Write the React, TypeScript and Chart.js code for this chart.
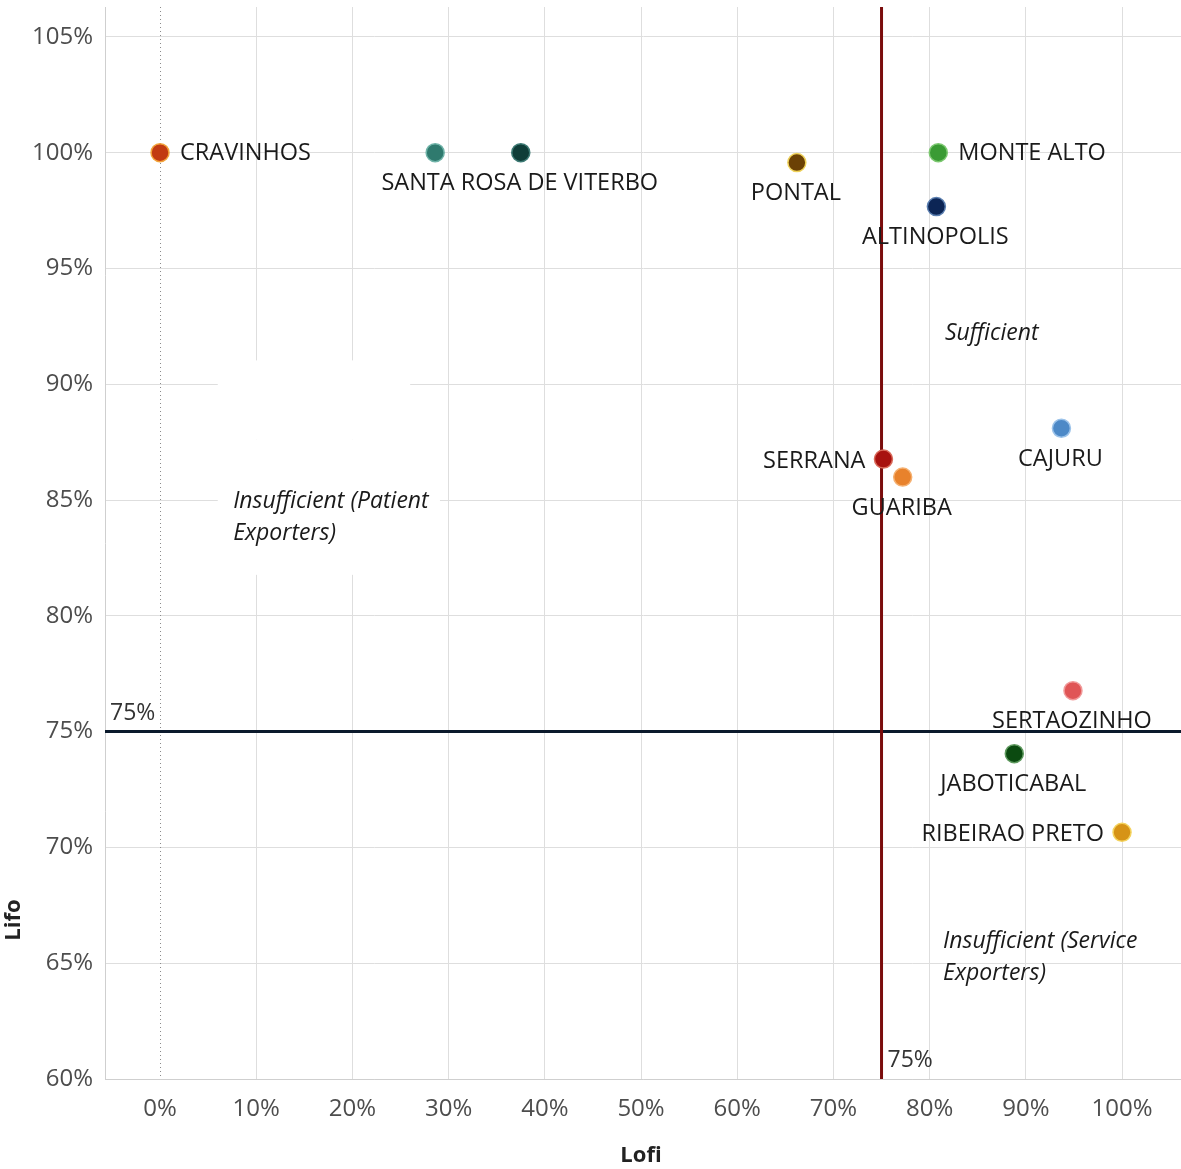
import React, { useEffect, useRef } from "react";
import { Chart, registerables } from "chart.js";

Chart.register(...registerables);

const cities = ["CRAVINHOS", "", "SANTA ROSA DE VITERBO", "PONTAL", "MONTE ALTO", "ALTINOPOLIS", "SERRANA", "GUARIBA", "CAJURU", "SERTAOZINHO", "JABOTICABAL", "RIBEIRAO PRETO"];
const lofi = [0, 28.6, 37.5, 66.2, 80.9, 80.7, 75.2, 77.2, 93.7, 94.9, 88.8, 100];
const lifo = [100, 100, 100, 99.57, 100, 97.67, 86.77, 85.99, 88.1, 76.77, 74.05, 70.65];
const pointColors = ["#c23b12", "#2f7a6e", "#0f3d38", "#6b4105", "#3a9b34", "#0c2555", "#a8120f", "#e8822c", "#4d89c7", "#e05556", "#0b4a10", "#d69316"];
const pointBorders = ["#f3a43a", "#6fb3a8", "#3d7a74", "#efd25a", "#7cc870", "#5b7fb0", "#d96a5a", "#f5b070", "#9cc3ea", "#f19a9a", "#5f9a5f", "#f4d35e"];
const labelSide = ["right", "none", "below", "below", "right", "below", "left", "below", "below", "below", "below", "left"];

const xTicks = [0, 10, 20, 30, 40, 50, 60, 70, 80, 90, 100];
const yTicks = [60, 65, 70, 75, 80, 85, 90, 95, 100, 105];
const xRange = [-5.72, 106.13];
const yRange = [60, 106.29];

const refLofi = 75;
const refLifo = 75;

const quadrantTexts = [["Sufficient"], ["Insufficient (Patient", "Exporters)"], ["Insufficient (Service", "Exporters)"]];
const quadrantX = [81.6, 7.6, 81.4];
const quadrantY = [92.2, 84.96, 65.95];

const FONT = "'Open Sans', 'Noto Sans', sans-serif";

const overlayPlugin = {
  id: "overlay",
  beforeDatasetsDraw(chart: any) {
    const { ctx, chartArea, scales } = chart;
    const xs = scales.x;
    const ys = scales.y;
    ctx.save();
    ctx.fillStyle = "#ffffff";
    const px = (v: number) => xs.getPixelForValue(v);
    const py = (v: number) => ys.getPixelForValue(v);
    ctx.fillRect(px(6.0), py(91.03), px(26.0) - px(6.0), py(87.6) - py(91.03));
    ctx.fillRect(px(6.0), py(87.6), px(29.1) - px(6.0), py(81.77) - py(87.6));
    // dotted zero line
    ctx.strokeStyle = "#8a8a8a";
    ctx.lineWidth = 1;
    ctx.setLineDash([1, 3]);
    ctx.beginPath();
    ctx.moveTo(px(0) + 0.5, chartArea.top);
    ctx.lineTo(px(0) + 0.5, chartArea.bottom);
    ctx.stroke();
    ctx.setLineDash([]);
    // horizontal reference
    ctx.strokeStyle = "#0b1a2c";
    ctx.lineWidth = 3;
    ctx.beginPath();
    ctx.moveTo(chartArea.left, py(refLifo));
    ctx.lineTo(chartArea.right, py(refLifo));
    ctx.stroke();
    // vertical reference
    ctx.strokeStyle = "#7a0c0c";
    ctx.lineWidth = 3;
    ctx.beginPath();
    ctx.moveTo(px(refLofi), chartArea.top);
    ctx.lineTo(px(refLofi), chartArea.bottom);
    ctx.stroke();
    ctx.fillStyle = "#333";
    ctx.font = `23px ${FONT}`;
    ctx.textAlign = "left";
    ctx.textBaseline = "middle";
    ctx.fillText(refLifo + "%", chartArea.left + 5, py(refLifo) - 18);
    ctx.fillText(refLofi + "%", px(refLofi) + 6, chartArea.bottom - 19);
    ctx.restore();
  },
  afterDatasetsDraw(chart: any) {
    const { ctx, scales } = chart;
    const xs = scales.x;
    const ys = scales.y;
    ctx.save();
    ctx.fillStyle = "#1a1a1a";
    ctx.font = `23.5px ${FONT}`;
    ctx.textBaseline = "middle";
    cities.forEach((name, i) => {
      const side = labelSide[i];
      if (!name || side === "none") return;
      const x = xs.getPixelForValue(lofi[i]);
      const y = ys.getPixelForValue(lifo[i]);
      if (side === "right") {
        ctx.textAlign = "left";
        ctx.fillText(name, x + 20, y + 1);
      } else if (side === "left") {
        ctx.textAlign = "right";
        ctx.fillText(name, x - 18, y + 2);
      } else {
        ctx.textAlign = "center";
        ctx.fillText(name, x - 1, y + 31);
      }
    });
    ctx.font = `italic 23px ${FONT}`;
    ctx.fillStyle = "#1a1a1a";
    ctx.textAlign = "left";
    quadrantTexts.forEach((lines, i) => {
      const x = xs.getPixelForValue(quadrantX[i]);
      const y = ys.getPixelForValue(quadrantY[i]);
      lines.forEach((ln, j) => ctx.fillText(ln, x, y + j * 32));
    });
    ctx.font = `bold 22px ${FONT}`;
    ctx.fillStyle = "#222";
    ctx.textAlign = "center";
    ctx.fillText("Lofi", (chart.chartArea.left + chart.chartArea.right) / 2 - 2, 1156);
    ctx.translate(14, 920);
    ctx.rotate(-Math.PI / 2);
    ctx.fillText("Lifo", 0, 0);
    ctx.restore();
  },
};

export default function App() {
  const canvasRef = useRef<HTMLCanvasElement | null>(null);
  useEffect(() => {
    if (!canvasRef.current) return;
    const chart = new Chart(canvasRef.current, {
      type: "scatter",
      data: {
        datasets: [
          {
            label: "Cities",
            data: lofi.map((x, i) => ({ x, y: lifo[i] })),
            backgroundColor: pointColors,
            borderColor: pointBorders,
            borderWidth: 1.5,
            pointRadius: 9,
            pointHoverRadius: 9,
          },
        ],
      },
      options: {
        animation: false,
        responsive: false,
        devicePixelRatio: 1,
        layout: { autoPadding: false, padding: { top: 7, left: 0, right: 0, bottom: 0 } },
        plugins: { legend: { display: false }, tooltip: { enabled: false }, title: { display: false } },
        scales: {
          x: {
            type: "linear",
            min: xRange[0],
            max: xRange[1],
            afterBuildTicks: (s: any) => {
              s.ticks = xTicks.map((v) => ({ value: v }));
            },
            afterFit: (s: any) => {
              s.height = 90;
              s.paddingLeft = 0;
              s.paddingRight = 0;
            },
            grid: {
              color: (c: any) => (c.tick && c.tick.value === 0 ? "rgba(0,0,0,0)" : "#dedede"),
              lineWidth: 1,
              drawTicks: false,
            },
            border: { display: true, color: "#cfcfcf" },
            ticks: {
              padding: 16,
              color: "#4d4d4d",
              font: { family: FONT, size: 24 },
              callback: (v: any) => v + "%",
            },
          },
          y: {
            type: "linear",
            min: yRange[0],
            max: yRange[1],
            afterBuildTicks: (s: any) => {
              s.ticks = yTicks.map((v) => ({ value: v }));
            },
            afterFit: (s: any) => {
              s.width = 105;
              s.paddingTop = 0;
              s.paddingBottom = 0;
            },
            grid: { color: "#dedede", lineWidth: 1, drawTicks: false },
            border: { display: true, color: "#cfcfcf" },
            ticks: {
              padding: 12,
              color: "#4d4d4d",
              font: { family: FONT, size: 24 },
              callback: (v: any) => v + "%",
            },
          },
        },
      },
      plugins: [overlayPlugin],
    });
    return () => chart.destroy();
  }, []);
  return (
    <div style={{ position: "absolute", left: 0, top: 0, width: 1181, height: 1169, background: "#fff" }}>
      <canvas ref={canvasRef} width={1181} height={1169} style={{ display: "block" }} />
    </div>
  );
}
